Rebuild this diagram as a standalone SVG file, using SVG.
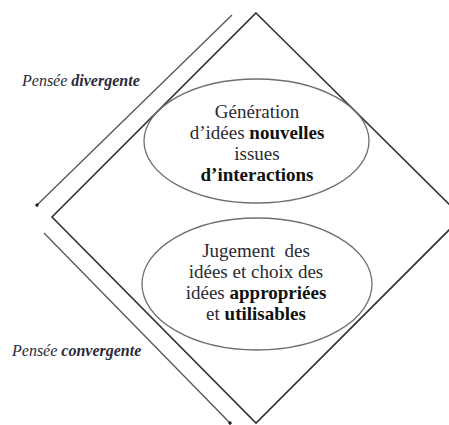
<svg xmlns="http://www.w3.org/2000/svg" width="449" height="425" viewBox="0 0 449 425">
<style>
.diamond{fill:none;stroke:#333;stroke-width:1.6}
.ell{fill:none;stroke:#6f6f6f;stroke-width:1.3}
.flow{fill:none;stroke:#555;stroke-width:1.3}
text{font-family:'Liberation Serif','DejaVu Serif',serif}
.t{font-size:19px;fill:#2a2a33;text-anchor:middle}
.b{font-weight:bold;fill:#111}
.lab{font-size:16px;font-style:italic;fill:#2a2a3a}
</style>
<defs>
<marker id="dot" viewBox="0 0 6 6" refX="3" refY="3" markerWidth="4" markerHeight="4" orient="auto" markerUnits="userSpaceOnUse">
<circle cx="3" cy="3" r="2.5" fill="#222"/>
</marker>
</defs>
<g id="diamond">
<polygon class="diamond" points="256,13 462,217 256,423 52,217"/>
</g>
<g id="connectors">
<line class="flow" x1="232" y1="15" x2="37" y2="205" marker-end="url(#dot)"/>
<line class="flow" x1="44" y1="233" x2="230" y2="423" marker-end="url(#dot)"/>
</g>
<g id="node-generation">
<ellipse class="ell" cx="256.5" cy="141" rx="112.5" ry="62"/>
<text class="t" x="257" y="118">Génération</text>
<text class="t" x="257" y="139">d’idées <tspan class="b">nouvelles</tspan></text>
<text class="t" x="257" y="160">issues</text>
<text class="t" x="257" y="181"><tspan class="b">d’interactions</tspan></text>
</g>
<g id="node-jugement">
<ellipse class="ell" cx="257" cy="284" rx="115" ry="66"/>
<text class="t" x="256" y="257" xml:space="preserve">Jugement  des</text>
<text class="t" x="256" y="278">idées et choix des</text>
<text class="t" x="256" y="299">idées <tspan class="b">appropriées</tspan></text>
<text class="t" x="256" y="320">et <tspan class="b">utilisables</tspan></text>
</g>
<g id="label-divergente">
<text class="lab" x="22" y="86">Pensée <tspan font-weight="bold">divergente</tspan></text>
</g>
<g id="label-convergente">
<text class="lab" x="12" y="356">Pensée <tspan font-weight="bold">convergente</tspan></text>
</g>
</svg>
